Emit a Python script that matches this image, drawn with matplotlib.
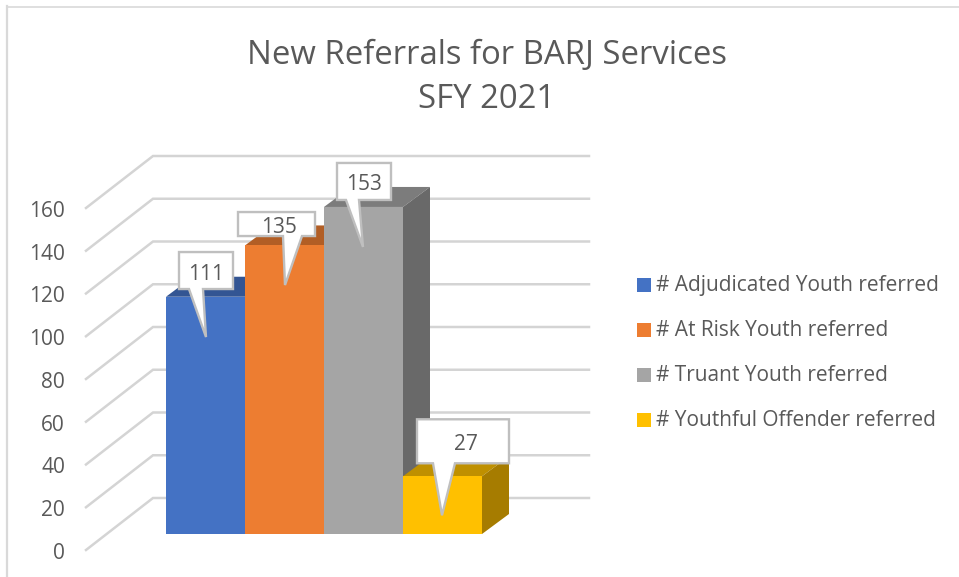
import matplotlib
matplotlib.use("Agg")
import matplotlib.pyplot as plt
from matplotlib.patches import Polygon, Rectangle

plt.rcParams['font.family'] = ['Open Sans', 'DejaVu Sans']

categories = ["# Adjudicated Youth referred", "# At Risk Youth referred",
              "# Truant Youth referred", "# Youthful Offender referred"]
values = [111, 135, 153, 27]
y_ticks = [0, 20, 40, 60, 80, 100, 120, 140, 160]
title_lines = ["New Referrals for BARJ Services", "SFY 2021"]

front_colors = ['#4472C4', '#ED7D31', '#A5A5A5', '#FFC000']
top_colors = ['#335593', '#B25E25', '#7C7C7C', '#BF9000']
side_colors = ['#29457A', '#8E4B1E', '#696969', '#A67C00']
text_color = '#595959'
grid_color = '#D4D4D4'
callout_edge = '#BFBFBF'

W, H = 959, 577
px_x = 79.0        # pixels per bar
px_y = 2.1375      # pixels per unit of value
base_left = 166    # pixel x of first bar
base_y = 534       # pixel y of value 0 on bar front


def dx(p):
    return p / px_x


def dy(p):
    return p / px_y


fig = plt.figure(figsize=(W / 100, H / 100), dpi=100)
ax = fig.add_axes([0, 0, 1, 1])
ax.set_xlim(-0.5 - dx(base_left), -0.5 + dx(W - base_left))
ax.set_ylim(-dy(H - base_y), dy(base_y))
ax.axis('off')

# chart border, only top and left are visible
fig.add_artist(plt.Line2D([7 / W, 7 / W], [0, 1 - 6 / H], color='#D9D9D9', lw=1.6))
fig.add_artist(plt.Line2D([7 / W, 1], [1 - 6.5 / H, 1 - 6.5 / H], color='#D9D9D9', lw=1.2))

# gridlines: slanted on the side wall, flat on the back wall
x0 = -0.5 - dx(80)
x1 = -0.5 - dx(13)
x2 = -0.5 + dx(423)
for t in y_ticks:
    ax.plot([x0, x1, x2], [t - dy(16), t + dy(36), t + dy(36)], color=grid_color,
            lw=1.8, solid_joinstyle='miter', zorder=1)
    ax.text(x0 - dx(21), t - dy(17), str(t), ha='right', va='center_baseline',
            fontsize=15, color=text_color)

# bars with fake depth
depth_x = dx(27)
depth_y = dy(20)
ax.bar(range(len(values)), values, width=1.0, color=front_colors, zorder=3)
for i, v in enumerate(values):
    l, r = i - 0.5, i + 0.5
    ax.add_patch(Polygon([(l, v), (r, v), (r + depth_x, v + depth_y), (l + depth_x, v + depth_y)],
                         closed=True, fc=top_colors[i], ec='none', zorder=2 + i * 0.01))
    ax.add_patch(Polygon([(r, 0), (r + depth_x, depth_y), (r + depth_x, v + depth_y), (r, v)],
                         closed=True, fc=side_colors[i], ec='none', zorder=2 + i * 0.01))

# callouts, offsets in pixels from the top centre of each bar
box_l = [-26.5, -46.5, -26.5, -25.5]
box_r = [27.5, 30.5, 27.5, 66.5]
box_t = [-44.7, -33.4, -44, -57]
box_b = [-7.7, -9.4, -7, -13]
tail_l = [-16.5, -1.5, -17.5, -9.5]
tail_r = [-2.5, 17.5, -4.5, 12.5]
tail_tip_x = [0.5, 0.5, -0.5, -0.5]
tail_tip_y = [40.3, 39.6, 40, 39]
label_shift = [0, 2.5, 0, 3]
for i, v in enumerate(values):
    pts = [(box_l[i], box_t[i]), (box_r[i], box_t[i]), (box_r[i], box_b[i]),
           (tail_r[i], box_b[i]), (tail_tip_x[i], tail_tip_y[i]), (tail_l[i], box_b[i]),
           (box_l[i], box_b[i])]
    ax.add_patch(Polygon([(i + dx(a), v - dy(b)) for a, b in pts], closed=True,
                         fc='white', ec=callout_edge, lw=1.7, zorder=5))
    ax.text(i + dx((box_l[i] + box_r[i]) / 2 + label_shift[i]),
            v - dy((box_t[i] + box_b[i]) / 2 + 1),
            str(v), ha='center', va='center_baseline', fontsize=15, color=text_color, zorder=6)

# title
fig.text(487 / W, 1 - 55 / H, title_lines[0], ha='center', va='center',
         fontsize=23.65, color=text_color)
fig.text(487 / W, 1 - 100 / H, title_lines[1], ha='center', va='center',
         fontsize=23.65, color=text_color)

# legend
for i, name in enumerate(categories):
    yy = 285 + 45 * i
    fig.add_artist(Rectangle((637 / W, 1 - (yy + 7) / H), 14 / W, 14 / H,
                             fc=front_colors[i], ec='none', transform=fig.transFigure))
    fig.text(656 / W, 1 - (yy + 6) / H, name, ha='left', va='baseline',
             fontsize=15, color=text_color)

fig.savefig("out.png", dpi=100, facecolor='white')
